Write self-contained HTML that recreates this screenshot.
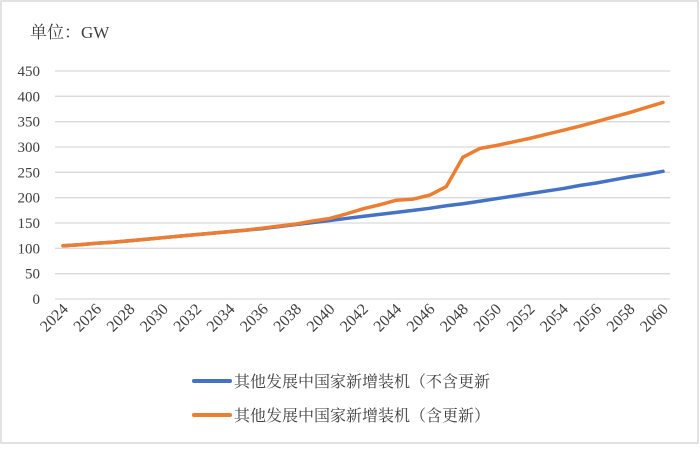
<!DOCTYPE html>
<html><head><meta charset="utf-8">
<style>
body{margin:0;background:#fff;}
#wrap{position:relative;width:700px;height:445px;}
svg text{font-family:"Liberation Serif","Noto Serif CJK SC",serif;fill:#404040;}
</style></head>
<body>
<div id="wrap">
<svg id="chart" width="700" height="445">
<rect x="1" y="1" width="697" height="442" fill="#fff" stroke="#d9d9d9" stroke-width="1.5"/>
<text x="30" y="38" font-size="17">单位：GW</text>
<g id="grid"></g><g id="yt"></g><g id="xt"></g><g id="lines"></g>
<g>
<line x1="194" y1="381" x2="230" y2="381" stroke="#4472c4" stroke-width="4" stroke-linecap="round"/>
<text x="234" y="387" font-size="16">其他发展中国家新增装机（不含更新</text>
<line x1="194" y1="415" x2="230" y2="415" stroke="#ed7d31" stroke-width="4" stroke-linecap="round"/>
<text x="234" y="421" font-size="16">其他发展中国家新增装机（含更新）</text>
</g>
</svg>
</div>
<script>
const years=[];for(let y=2024;y<=2060;y++)years.push(y);
const yTicks=[0,50,100,150,200,250,300,350,400,450];
const blueVals=[105,107,110,112,115,118,121,124,127,130,133,136,139,143,147,151,155,159,163,167,171,175,179,184,188,193,198,203,208,213,218,224,229,235,241,246,252];
const orangeVals=[105,107,110,112,115,118,121,124,127,130,133,136,140,144,148,154,159,168,178,186,195,197,205,222,280,297,303,310,317,325,333,341,350,359,368,378,388];
const NS="http://www.w3.org/2000/svg";
const x0=63,x1=663,yb=299,yt=71,xl=55,xr=670;
const X=i=>x0+(x1-x0)*i/(years.length-1);
const Y=v=>yb-(yb-yt)*v/450;
function mk(t,a,p){const e=document.createElementNS(NS,t);for(const k in a)e.setAttribute(k,a[k]);p.appendChild(e);return e;}
const g=document.getElementById('grid'),gy=document.getElementById('yt'),gx=document.getElementById('xt'),gl=document.getElementById('lines');
yTicks.forEach(v=>{
 const l=mk('line',{x1:xl,x2:xr,y1:Y(v),y2:Y(v),stroke:'#d9d9d9','stroke-width':1.3},g);
 
 
 const t=mk('text',{x:40,y:Y(v)+5,'font-size':15,'text-anchor':'end'},gy);
 t.textContent=v;
 
 
});
years.forEach((yr,i)=>{
 if(i%2)return;
 const x=X(i)+6,y=310;
 const t=mk('text',{x:x,y:y,'font-size':16,'text-anchor':'end',transform:`rotate(-45 ${x} ${y})`},gx);
 t.textContent=yr;
 
 
});
function line(vals,color,name){
 const p=mk('polyline',{points:vals.map((v,i)=>X(i)+','+Y(v)).join(' '),fill:'none',stroke:color,'stroke-width':3.5,'stroke-linejoin':'round','stroke-linecap':'round'},gl);
 
 
}
line(blueVals,'#4472c4','series-excluding-renewal');
line(orangeVals,'#ed7d31','series-including-renewal');
</script>
</body></html>
